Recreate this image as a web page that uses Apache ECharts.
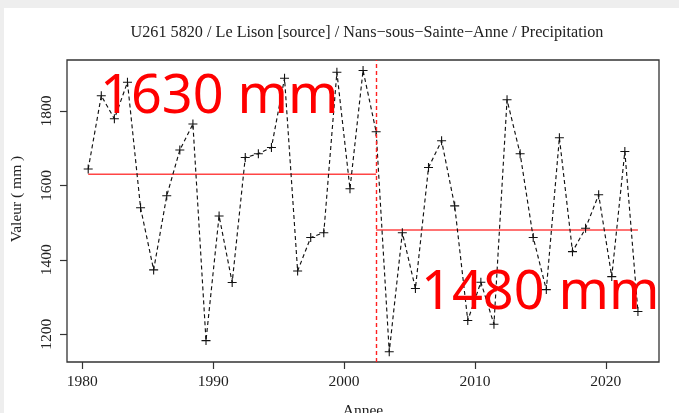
<!DOCTYPE html>
<html>
<head>
<meta charset="utf-8">
<script src="https://cdn.jsdelivr.net/npm/echarts@6/dist/echarts.min.js"></script>
<style>
  html, body { margin: 0; padding: 0; background: #fff; }
  #chart { width: 679px; height: 413px; }
</style>
</head>
<body>
<div id="chart"></div>
<script>
// Annual precipitation, U261 5820 (Le Lison source, Nans-sous-Sainte-Anne)
const years = [1980, 1981, 1982, 1983, 1984, 1985, 1986, 1987, 1988, 1989,
               1990, 1991, 1992, 1993, 1994, 1995, 1996, 1997, 1998, 1999,
               2000, 2001, 2002, 2003, 2004, 2005, 2006, 2007, 2008, 2009,
               2010, 2011, 2012, 2013, 2014, 2015, 2016, 2017, 2018, 2019,
               2020, 2021, 2022];
const precip = [1644, 1841, 1779, 1877, 1540, 1373, 1572, 1695, 1765, 1183,
                1518, 1339, 1675, 1685, 1702, 1888, 1370, 1460, 1473, 1904,
                1591, 1909, 1744, 1153, 1473, 1323, 1648, 1720, 1545, 1237,
                1340, 1227, 1830, 1685, 1460, 1320, 1728, 1422, 1485, 1575,
                1355, 1691, 1261];

// Break year and the mean of each period
const breakYear = 2002;
const meanBefore = 1630;
const meanAfter = 1480;
const meanLabels = ['1630 mm', '1480 mm'];

const xTicks = [1980, 1990, 2000, 2010, 2020];
const yTicks = [1200, 1400, 1600, 1800];

const title = 'U261 5820 / Le Lison [source] / Nans\u2212sous\u2212Sainte\u2212Anne / Precipitation';
const yTitle = 'Valeur ( mm )';

// values are plotted at mid-year
const t = y => y + 0.45;

const serif = '"Liberation Serif", "DejaVu Serif", serif';
const plus = 'path://M4.4,0H5.6V4.4H10V5.6H5.6V10H4.4V5.6H0V4.4H4.4Z';
const plain = v => String(v);

const chart = echarts.init(document.getElementById('chart'), null, { renderer: 'canvas' });

chart.setOption({
  animation: false,
  backgroundColor: '#ffffff',
  grid: {
    left: 67, right: 20, top: 60, bottom: 51,
    outerBoundsMode: 'none', containLabel: false,
    show: true, borderColor: '#333', borderWidth: 1.3, backgroundColor: 'transparent'
  },
  xAxis: {
    type: 'value',
    min: 1978.83, max: 2024.06,
    splitLine: { show: false },
    axisLine: { show: false },
    axisTick: { show: true, length: 7, customValues: xTicks, lineStyle: { color: '#333', width: 1.2 } },
    axisLabel: { customValues: xTicks, formatter: plain, margin: 12, color: '#222', fontFamily: serif, fontSize: 15.5 },
    name: 'Annee', nameLocation: 'middle', nameGap: 41,
    nameTextStyle: { color: '#222', fontFamily: serif, fontSize: 15.5 }
  },
  yAxis: {
    type: 'value',
    min: 1125.5, max: 1937,
    splitLine: { show: false },
    axisLine: { show: false },
    axisTick: { show: true, length: 7, customValues: yTicks, lineStyle: { color: '#333', width: 1.2 } },
    axisLabel: { customValues: yTicks, formatter: plain, rotate: 90, margin: 12, color: '#222', fontFamily: serif, fontSize: 15.5 }
  },
  series: [
    {
      type: 'line',
      data: years.map((y, i) => [t(y), precip[i]]),
      symbol: plus, symbolSize: 9, showAllSymbol: true,
      itemStyle: { color: '#111' },
      lineStyle: { color: '#111', width: 1.15, type: [4, 3] },
      z: 3,
      markLine: {
        silent: true, symbol: 'none', label: { show: false },
        lineStyle: { color: '#ff2020', width: 1.4, type: [4, 3] },
        data: [{ xAxis: t(breakYear) }]
      }
    },
    {
      type: 'line',
      data: [[t(years[0]), meanBefore], [t(breakYear), meanBefore]],
      symbol: 'none',
      lineStyle: { color: '#ff4545', width: 1.6 },
      z: 2
    },
    {
      type: 'line',
      data: [[t(breakYear), meanAfter], [t(years[years.length - 1]), meanAfter]],
      symbol: 'none',
      lineStyle: { color: '#ff4545', width: 1.6 },
      z: 2
    }
  ],
  graphic: [
    { type: 'rect', shape: { x: 0, y: 0, width: 679, height: 8 }, style: { fill: '#eeeeee' }, z: -10 },
    { type: 'rect', shape: { x: 0, y: 0, width: 4, height: 413 }, style: { fill: '#eeeeee' }, z: -10 },
    {
      type: 'text', x: 367, y: 33, z: 10,
      style: { text: title, fill: '#222', font: '16.2px ' + serif, align: 'center', verticalAlign: 'middle' }
    },
    {
      type: 'text', x: 17, y: 199, rotation: Math.PI / 2, z: 10,
      style: { text: yTitle, fill: '#222', font: '15.5px ' + serif, align: 'center', verticalAlign: 'middle' }
    },
    {
      type: 'text', x: 100, y: 98, z: 20,
      style: { text: meanLabels[0], fill: '#ff0000', font: '54px "Noto Sans"', align: 'left', verticalAlign: 'middle' }
    },
    {
      type: 'text', x: 421, y: 294, z: 20,
      style: { text: meanLabels[1], fill: '#ff0000', font: '54px "Noto Sans"', align: 'left', verticalAlign: 'middle' }
    }
  ]
});
</script>
</body>
</html>
